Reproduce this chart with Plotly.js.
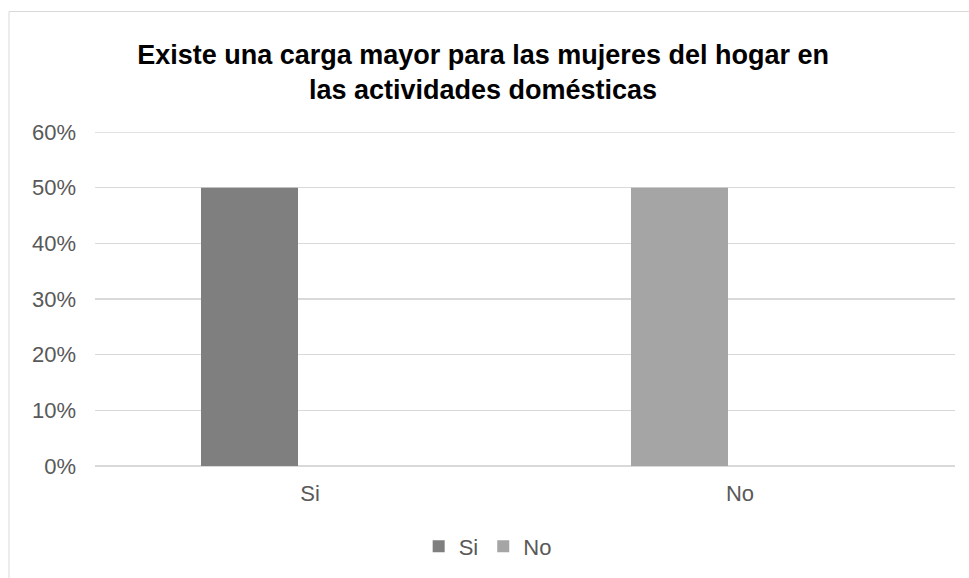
<!DOCTYPE html>
<html>
<head>
<meta charset="utf-8">
<script src="https://cdn.plot.ly/plotly-3.0.1.min.js"></script>
<style>html,body{margin:0;padding:0;background:#fff;}#chart{width:969px;height:578px;}</style>
</head>
<body>
<div id="chart"></div>
<script>
const categories = ['Si', 'No'];
const seriesNames = ['Si', 'No'];
const siValues = [0.5, 0];
const noValues = [0, 0.5];
const yTickValues = [0, 0.1, 0.2, 0.3, 0.4, 0.5, 0.6];
const yTickLabels = ['0%', '10%', '20%', '30%', '40%', '50%', '60%'];
const titleText = 'Existe una carga mayor para las mujeres del hogar en<br>las actividades domésticas';

const font = 'Liberation Sans, Arial, sans-serif';
const barStyle = {offset: -0.2535, width: 0.2256};
const yMax = yTickValues[yTickValues.length - 1];

const traces = [
  Object.assign({type: 'bar', name: seriesNames[0], x: categories, y: siValues,
    marker: {color: '#7f7f7f', line: {width: 0}}, hoverinfo: 'skip'}, barStyle),
  Object.assign({type: 'bar', name: seriesNames[1], x: categories, y: noValues,
    marker: {color: '#a5a5a5', line: {width: 0}}, hoverinfo: 'skip'}, barStyle)
];

const layout = {
  width: 969, height: 578,
  margin: {l: 95, r: 14, t: 132, b: 110.5, pad: 0},
  paper_bgcolor: '#ffffff', plot_bgcolor: '#ffffff',
  barmode: 'overlay',
  font: {family: font, color: '#595959', size: 20},
  title: {
    text: titleText,
    font: {family: font, size: 27, color: '#000000', weight: 'bold'},
    x: 0.4985, xanchor: 'center', xref: 'container',
    y: 1 - 64 / 578, yanchor: 'top', yref: 'container'
  },
  xaxis: {
    type: 'category', range: [-0.5, 1.5],
    showgrid: false, zeroline: false, showline: false,
    ticks: '', ticklabelstandoff: 12,
    tickfont: {family: font, size: 22, color: '#595959'}
  },
  yaxis: {
    range: [0, yMax], tickvals: yTickValues, ticktext: yTickLabels,
    showgrid: true, gridcolor: '#d9d9d9', gridwidth: 1.5,
    zeroline: true, zerolinecolor: '#d9d9d9', zerolinewidth: 1.5,
    showline: false, ticks: '', ticklabelstandoff: 18,
    tickfont: {family: font, size: 22, color: '#595959'}
  },
  showlegend: true,
  legend: {
    orientation: 'h', x: 0.4566, xanchor: 'center', y: -0.237, yanchor: 'middle',
    font: {family: font, size: 22, color: '#595959'},
    itemwidth: 30, tracegroupgap: 0, bgcolor: 'rgba(0,0,0,0)'
  },
  shapes: [
    {
      type: 'rect', xref: 'paper', yref: 'paper',
      x0: -0.1, x1: 1.2, y0: -0.6, y1: 1.3607,
      line: {color: '#d9d9d9', width: 1}, fillcolor: 'rgba(0,0,0,0)', layer: 'below'
    },
    {
      type: 'line', xref: 'paper', yref: 'y',
      x0: 0, x1: 1, y0: yMax, y1: yMax,
      line: {color: '#d9d9d9', width: 1.5}, layer: 'below'
    }
  ]
};

Plotly.newPlot('chart', traces, layout, {displayModeBar: false, staticPlot: true});
</script>
</body>
</html>
